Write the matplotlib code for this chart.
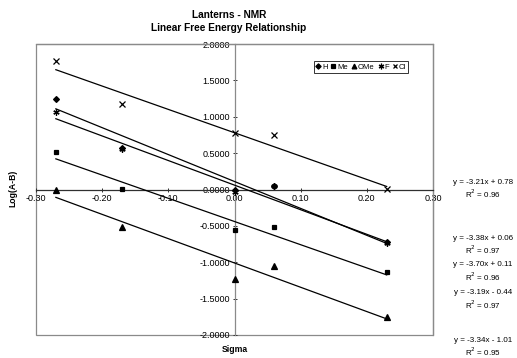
import numpy as np
import matplotlib
matplotlib.use("Agg")
import matplotlib.pyplot as plt
from matplotlib.patches import Rectangle
from matplotlib.ticker import FormatStrFormatter, MultipleLocator

plt.rcParams["font.family"] = ["Liberation Sans", "DejaVu Sans"]

# ── Data ─────────────────────────────────────────────────────────────────────
sigma = [-0.27, -0.17, 0.00, 0.06, 0.23]
log_h   = [1.24, 0.57, 0.00, 0.05, -0.72]
log_me  = [0.52, 0.01, -0.55, -0.52, -1.14]
log_ome = [0.00, -0.52, -1.23, -1.05, -1.75]
log_f   = [1.06, 0.55, -0.03, 0.05, -0.74]
log_cl  = [1.77, 1.17, 0.77, 0.75, 0.01]

series_names = ["H", "Me", "OMe", "F", "Cl"]
series_vals  = [log_h, log_me, log_ome, log_f, log_cl]

# trendline coefficients as printed on the chart
slopes     = [-3.70, -3.19, -3.34, -3.38, -3.21]
intercepts = [0.11, -0.44, -1.01, 0.06, 0.78]
r_squared  = [0.96, 0.97, 0.95, 0.97, 0.96]

# equation labels top to bottom: Cl, F, H, Me, OMe
eq_order = [4, 3, 0, 1, 2]
eq_ypix  = [182, 238, 265, 293, 340]

markers = ["D", "s", "^", (6, 2, 0), "x"]
msizes  = [3.0, 3.2, 3.8, 4.5, 3.8]

W, H = 517, 358
fig = plt.figure(figsize=(W / 100, H / 100), dpi=100)
ax = fig.add_axes([36 / W, 23 / H, 397 / W, 291 / H])

xs = np.array([min(sigma), max(sigma)])
for name, vals, mk, ms, m, b in zip(series_names, series_vals, markers, msizes,
                                    slopes, intercepts):
    ax.plot(sigma, vals, ls="none", marker=mk, ms=ms, color="black",
            mew=0.9, label=name, zorder=4)
    ax.plot(xs, m * xs + b, color="black", lw=0.9, zorder=3)

ax.set_xlim(-0.30, 0.30)
ax.set_ylim(-2.0, 2.0)
ax.xaxis.set_major_locator(MultipleLocator(0.1))
ax.yaxis.set_major_locator(MultipleLocator(0.5))
ax.xaxis.set_major_formatter(FormatStrFormatter("%.2f"))
ax.yaxis.set_major_formatter(FormatStrFormatter("%.4f"))

# Excel-style axes crossing at the origin
ax.spines["left"].set_position(("data", 0))
ax.spines["bottom"].set_position(("data", 0))
ax.spines["left"].set_color("#8a8a8a")
ax.spines["bottom"].set_color("#303030")
for s in ["left", "bottom"]:
    ax.spines[s].set_linewidth(0.9)
for s in ["top", "right"]:
    ax.spines[s].set_color("#8a8a8a")
    ax.spines[s].set_linewidth(0.9)
ax.add_patch(Rectangle((0, 0), 1, 1, transform=ax.transAxes, fill=False,
                       ec="#8a8a8a", lw=0.9, clip_on=False, zorder=0))

ax.tick_params(axis="both", direction="inout", length=3, width=0.7,
               labelsize=6.5, colors="#303030", pad=2)
for lbl in ax.get_xticklabels() + ax.get_yticklabels():
    lbl.set_color("black")

leg = ax.legend(loc="center", bbox_to_anchor=(361 / W, 1 - 67 / H),
                bbox_transform=fig.transFigure, ncol=5, fontsize=5.5,
                frameon=True, fancybox=False, handlelength=0.6,
                handletextpad=0.2, columnspacing=0.5, borderpad=0.25,
                markerscale=0.9)
leg.get_frame().set_edgecolor("black")
leg.get_frame().set_linewidth(0.7)

fig.text(229 / W, 1 - 15 / H, "Lanterns - NMR", ha="center", va="center",
         fontsize=7.3, fontweight="bold")
fig.text(229 / W, 1 - 28 / H, "Linear Free Energy Relationship",
         ha="center", va="center", fontsize=7.3, fontweight="bold")
fig.text(13 / W, 1 - 188 / H, "Log(A-B)", rotation=90, ha="center",
         va="center", fontsize=6.2, fontweight="bold")
fig.text(235 / W, 1 - 350 / H, "Sigma", ha="center", va="center",
         fontsize=6.2, fontweight="bold")

for idx, yp in zip(eq_order, eq_ypix):
    b = intercepts[idx]
    sign = "+" if b >= 0 else "-"
    fig.text(483 / W, 1 - yp / H, f"y = {slopes[idx]:.2f}x {sign} {abs(b):.2f}",
             ha="center", va="center", fontsize=5.8)
    fig.text(483 / W, 1 - (yp + 12) / H, f"R$^2$ = {r_squared[idx]:.2f}",
             ha="center", va="center", fontsize=5.8)

fig.savefig("out.png", dpi=100)
